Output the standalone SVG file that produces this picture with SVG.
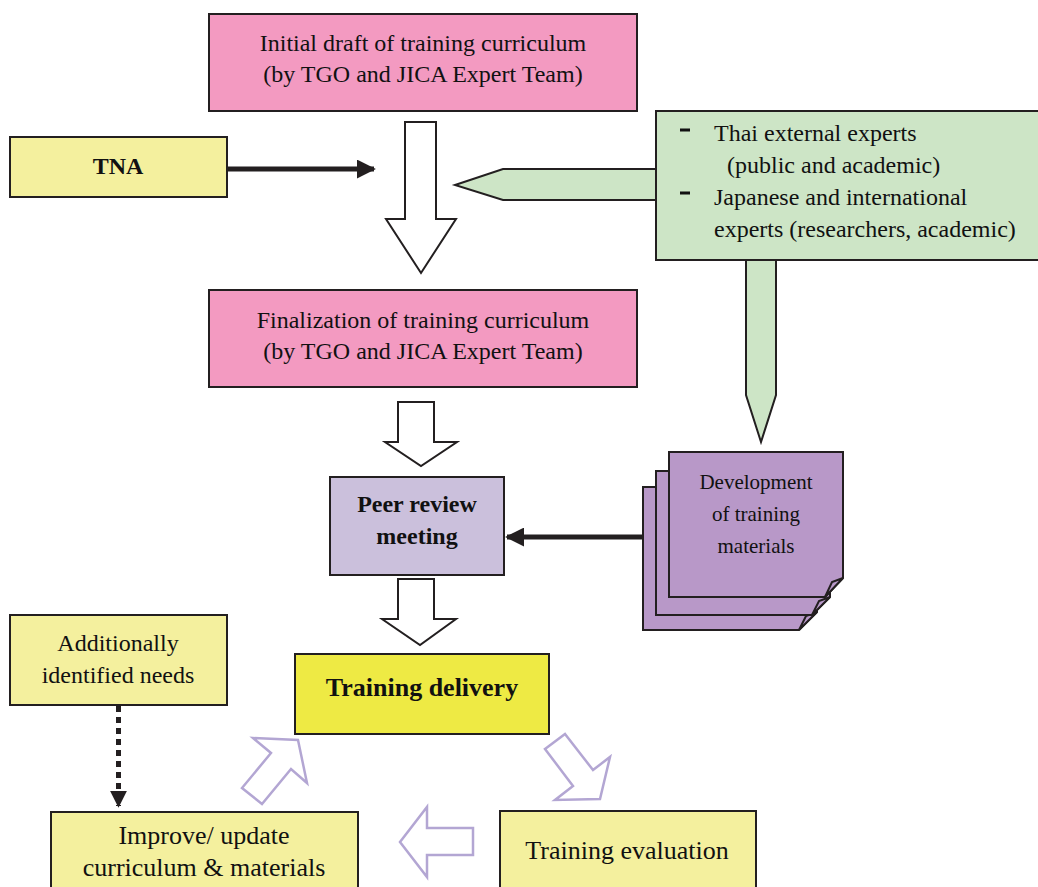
<svg xmlns="http://www.w3.org/2000/svg" width="1038" height="887" viewBox="0 0 1038 887">
<defs>
<style>
.box{stroke:#231f20;stroke-width:2}
.pink{fill:#f39ac1}
.pale{fill:#f4f09e}
.green{fill:#cde5c6}
.lav{fill:#cbc0dc}
.purple{fill:#b898c8}
.yellow{fill:#eeea44}
.t{font-family:"Liberation Serif","Times New Roman",serif;fill:#111;text-anchor:middle}
.l{font-family:"Liberation Serif","Times New Roman",serif;fill:#111;font-size:24px}
.b{font-weight:bold}
.hollow{fill:#fff;stroke:#231f20;stroke-width:2;stroke-linejoin:miter}
.cyc{fill:#fff;stroke:#b3a6d3;stroke-width:2.5}
</style>
<marker id="ah" viewBox="0 0 10 10" refX="9" refY="5" markerWidth="3.8" markerHeight="3.8" orient="auto" markerUnits="strokeWidth">
<path d="M0,0 L10,5 L0,10 Z" fill="#231f20"/>
</marker>
<marker id="ahd" viewBox="0 0 10 10" refX="9" refY="5" markerWidth="3.4" markerHeight="3.4" orient="auto" markerUnits="strokeWidth">
<path d="M0,0 L10,5 L0,10 Z" fill="#231f20"/>
</marker>
</defs>
<rect width="1038" height="887" fill="#fff"/>

<g id="connectors">
<line x1="227" y1="169" x2="374" y2="169" stroke="#231f20" stroke-width="5" marker-end="url(#ah)"/>
<path class="hollow" d="M405,122 H436 V219 H456 L421,273 L386,219 H405 Z"/>
<path class="box green" d="M657,169 H503 L455,185 L503,200 H657 Z"/>
<path class="box green" d="M746,258 V395 L761,442 L776,395 V258 Z"/>
<path class="hollow" d="M398,402 H434 V442 H457 L421,466 L385,442 H398 Z"/>
<path class="hollow" d="M398,579 H434 V619 H456 L420,645 L382,619 H398 Z"/>
<line x1="643" y1="537" x2="507" y2="537" stroke="#231f20" stroke-width="5" marker-end="url(#ah)"/>
<line x1="118.5" y1="706" x2="118.5" y2="806" stroke="#231f20" stroke-width="5" stroke-dasharray="6,5" marker-end="url(#ahd)"/>
<path class="cyc" d="M298,740 L307,783 L291,769 L262,804 L242,788 L271,753 L253,738 Z"/>
<path class="cyc" d="M545,749 L565,734 L593,770 L610,757 L600,799 L555,800 L573,786 Z"/>
<path class="cyc" d="M400,842 L427,807 V828 H473 V855 H427 V877 Z"/>
</g>

<g id="initial-draft">
<rect class="box pink" x="209" y="14" width="428" height="97"/>
<text class="t" x="423" y="51" font-size="24">Initial draft of training curriculum</text>
<text class="t" x="423" y="82" font-size="24">(by TGO and JICA Expert Team)</text>
</g>

<g id="tna">
<rect class="box pale" x="10" y="137" width="217" height="60"/>
<text class="t b" x="118" y="174" font-size="24">TNA</text>
</g>

<g id="experts">
<rect class="box green" x="656" y="111" width="390" height="149"/>
<rect x="680" y="128.5" width="10" height="3" fill="#111"/>
<text class="l" x="714" y="141">Thai external experts</text>
<text class="l" x="727" y="173">(public and academic)</text>
<rect x="680" y="191.5" width="10" height="3" fill="#111"/>
<text class="l" x="714" y="205">Japanese and international</text>
<text class="l" x="714" y="237">experts (researchers, academic)</text>
</g>

<g id="finalization">
<rect class="box pink" x="209" y="290" width="428" height="97"/>
<text class="t" x="423" y="328" font-size="24">Finalization of training curriculum</text>
<text class="t" x="423" y="359" font-size="24">(by TGO and JICA Expert Team)</text>
</g>

<g id="peer-review">
<rect class="box lav" x="330" y="477" width="174" height="98"/>
<text class="t b" x="417" y="512" font-size="24">Peer review</text>
<text class="t b" x="417" y="544" font-size="24">meeting</text>
</g>

<g id="materials">
<path class="box purple" d="M643,487 H817 V612 L799,630 H643 Z"/>
<path class="box purple" d="M799,630 L806,616 L817,612 Z"/>
<path class="box purple" d="M656,471 H830 V597 L812,615 H656 Z"/>
<path class="box purple" d="M812,615 L819,601 L830,597 Z"/>
<path class="box purple" d="M669,452 H843 V578 L825,597 H669 Z"/>
<path class="box purple" d="M825,597 L832,582 L843,578 Z"/>
<text class="t" x="756" y="489" font-size="21">Development</text>
<text class="t" x="756" y="521" font-size="21">of training</text>
<text class="t" x="756" y="553" font-size="21">materials</text>
</g>

<g id="training-delivery">
<rect class="box yellow" x="295" y="654" width="254" height="80"/>
<text class="t b" x="422" y="696" font-size="26">Training delivery</text>
</g>

<g id="additional-needs">
<rect class="box pale" x="10" y="615" width="217" height="90"/>
<text class="t" x="118" y="651" font-size="24">Additionally</text>
<text class="t" x="118" y="683" font-size="24">identified needs</text>
</g>

<g id="improve">
<rect class="box pale" x="51" y="812" width="307" height="90"/>
<text class="t" x="204" y="844" font-size="26">Improve/ update</text>
<text class="t" x="204" y="876" font-size="26">curriculum &amp; materials</text>
</g>

<g id="evaluation">
<rect class="box pale" x="500" y="811" width="256" height="90"/>
<text class="t" x="627" y="859" font-size="26">Training evaluation</text>
</g>
</svg>
